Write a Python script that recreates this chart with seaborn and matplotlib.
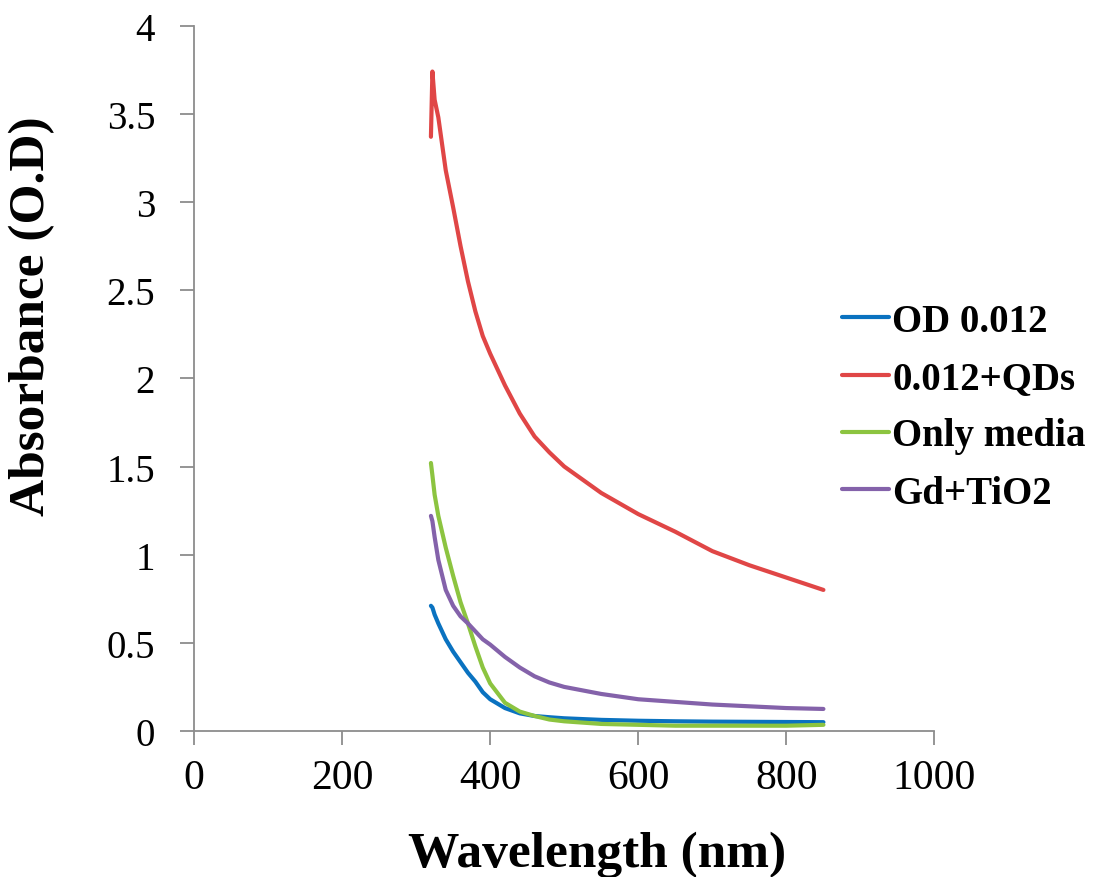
import pandas as pd
import matplotlib.pyplot as plt
import seaborn as sns

# Data
wavelength = [320, 322, 325, 330, 340, 350, 360, 370, 380, 390, 400, 420, 440,
              460, 480, 500, 550, 600, 650, 700, 750, 800, 850]
od_0012 = [0.71, 0.70, 0.66, 0.61, 0.52, 0.45, 0.39, 0.33, 0.28, 0.22, 0.18, 0.13,
           0.10, 0.085, 0.078, 0.072, 0.063, 0.058, 0.055, 0.053, 0.052, 0.051, 0.05]
od_qds = [3.37, 3.74, 3.58, 3.48, 3.18, 2.97, 2.75, 2.55, 2.38, 2.24, 2.14, 1.96,
          1.80, 1.67, 1.58, 1.50, 1.35, 1.23, 1.13, 1.02, 0.94, 0.87, 0.80]
only_media = [1.52, 1.45, 1.34, 1.22, 1.04, 0.88, 0.73, 0.61, 0.48, 0.36, 0.27, 0.16,
              0.11, 0.085, 0.065, 0.055, 0.04, 0.035, 0.03, 0.03, 0.03, 0.03, 0.035]
gd_tio2 = [1.22, 1.19, 1.10, 0.97, 0.80, 0.71, 0.65, 0.61, 0.565, 0.52, 0.49, 0.42,
           0.36, 0.31, 0.275, 0.25, 0.21, 0.18, 0.165, 0.15, 0.14, 0.13, 0.125]

series_names = ["OD 0.012", "0.012+QDs", "Only media", "Gd+TiO2"]
colors = ["#0a72c0", "#e04646", "#8cc440", "#8462aa"]

# long format for seaborn
frames = []
for name, vals in zip(series_names, [od_0012, od_qds, only_media, gd_tio2]):
    frames.append(pd.DataFrame({"Wavelength": wavelength, "Absorbance": vals, "Sample": name}))
df = pd.concat(frames, ignore_index=True)

sns.set_style("ticks")
plt.rcParams["font.family"] = ["Liberation Serif", "DejaVu Serif"]
plt.rcParams["text.color"] = "black"
plt.rcParams["axes.labelcolor"] = "black"

fig = plt.figure(figsize=(11.02, 8.78), dpi=100)
ax = fig.add_axes([0.176, 0.1663, 0.672, 0.8033])

sns.lineplot(data=df, x="Wavelength", y="Absorbance", hue="Sample",
             palette=colors, linewidth=3.0, ax=ax, sort=False,
             solid_capstyle="round", solid_joinstyle="round")

ax.set_xlim(0, 1000)
ax.set_ylim(0, 4)
ax.set_xticks([0, 200, 400, 600, 800, 1000])
ax.set_yticks([0, 0.5, 1, 1.5, 2, 2.5, 3, 3.5, 4])
ax.set_yticklabels(["0", "0.5", "1", "1.5", "2", "2.5", "3", "3.5", "4"])

sns.despine(ax=ax)
for side in ["left", "bottom"]:
    ax.spines[side].set_color("#8c8c8c")
    ax.spines[side].set_linewidth(1.3)
ax.tick_params(axis="both", colors="#8c8c8c", length=10, width=1.3, labelcolor="black")
ax.tick_params(axis="x", labelsize=30, pad=10)
ax.tick_params(axis="y", labelsize=28, pad=18)

ax.set_xlabel("Wavelength (nm)", fontsize=37, fontweight="bold")
ax.set_ylabel("Absorbance (O.D)", fontsize=37, fontweight="bold")
ax.xaxis.set_label_coords(0.544, -0.141)
ax.yaxis.set_label_coords(-0.187, 0.59)

leg = ax.legend(loc="center left", bbox_to_anchor=(0.764, 0.535), bbox_transform=fig.transFigure,
                frameon=False, prop={"weight": "bold", "size": 28},
                handlelength=1.2, handletextpad=0.1, labelspacing=0.52,
                borderpad=0, borderaxespad=0)
for line in leg.get_lines():
    line.set_linewidth(3.0)

fig.savefig("out.png", dpi=100)
